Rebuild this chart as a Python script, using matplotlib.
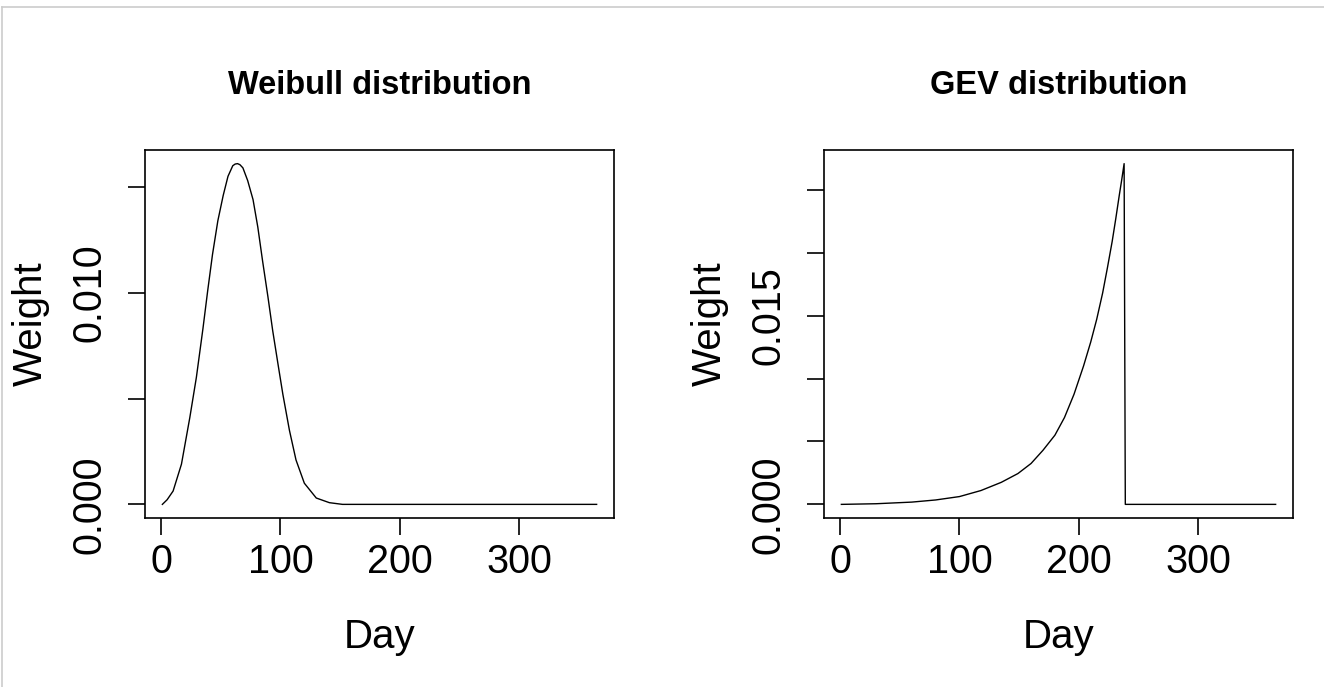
import matplotlib
matplotlib.use("Agg")
import matplotlib.pyplot as plt
from matplotlib.lines import Line2D

# values
weibull_day = [1, 5, 10, 17, 24, 29.5, 35, 39, 43, 47.5, 52, 56, 60, 62, 64, 66, 68.5,
               72.5, 77, 81, 85, 89.5, 93.5, 98, 102, 107.5, 113, 120, 130, 141, 152, 365]
weibull_weight = [0.0, 0.00022, 0.00063, 0.0019, 0.0041, 0.0060, 0.0083, 0.0101, 0.0118,
                  0.0134, 0.0146, 0.0155, 0.0160, 0.01608, 0.0161, 0.01605, 0.0159,
                  0.0153, 0.0144, 0.0131, 0.0115, 0.0098, 0.0082, 0.0066, 0.0052,
                  0.0035, 0.0021, 0.0010, 0.0003, 0.00008, 0.0, 0.0]

gev_day = [1, 30, 60, 80, 100, 118, 135, 149, 160, 170, 180, 188, 196, 204, 210, 215,
           220, 224, 228, 231, 234, 236, 238, 239, 365]
gev_weight = [0.0, 0.00005, 0.00018, 0.00035, 0.00062, 0.00110, 0.00175, 0.00245,
              0.00325, 0.00430, 0.00550, 0.00690, 0.00875, 0.01100, 0.01290, 0.01470,
              0.01680, 0.01880, 0.02090, 0.02270, 0.02460, 0.02580, 0.02708, 0.0, 0.0]

x_ticks = [0, 100, 200, 300]
weibull_yticks = [0.0, 0.005, 0.010, 0.015]
weibull_ylabels = ["0.000", "", "0.010", ""]
gev_yticks = [0.0, 0.005, 0.010, 0.015, 0.020, 0.025]
gev_ylabels = ["0.000", "", "", "0.015", "", ""]

plt.rcParams['font.family'] = ['Liberation Sans', 'DejaVu Sans']

W, H = 1324, 687


def make_panel(fig, left_px, title, days, weights, yticks, ylabels):
    ax = fig.add_axes([left_px / W, 1 - 518 / H, 469 / W, 368 / H])
    ax.plot(days, weights, color="black", lw=1.0)
    ax.margins(x=0.04, y=0.04)
    for s in ax.spines.values():
        s.set_linewidth(1.2)
    ax.set_xticks(x_ticks)
    ax.set_xticklabels([str(t) for t in x_ticks])
    ax.set_yticks(yticks)
    ax.set_yticklabels(ylabels, rotation=90, va="center")
    ax.tick_params(axis="both", length=12, width=1.2, labelsize=28.5)
    ax.tick_params(axis="x", pad=6)
    ax.tick_params(axis="y", pad=14)
    ax.set_title(title, fontsize=23.5, fontweight="bold", pad=40)
    ax.text(0.5, -0.354, "Day", transform=ax.transAxes, ha="center", va="baseline",
            fontsize=29)
    ax.text(-0.243, 0.527, "Weight", transform=ax.transAxes, ha="center", va="center",
            rotation=90, fontsize=29)
    return ax


fig = plt.figure(figsize=(W / 100, H / 100), dpi=100)
make_panel(fig, 145, "Weibull distribution", weibull_day, weibull_weight,
           weibull_yticks, weibull_ylabels)
make_panel(fig, 824, "GEV distribution", gev_day, gev_weight,
           gev_yticks, gev_ylabels)

# thin frame of the screenshot (top and left edge)
fig.add_artist(Line2D([2 / W, 1], [1 - 7 / H, 1 - 7 / H], color="#cccccc", lw=1.2))
fig.add_artist(Line2D([2 / W, 2 / W], [0, 1 - 7 / H], color="#cccccc", lw=1.2))

fig.savefig("out.png", dpi=100)
